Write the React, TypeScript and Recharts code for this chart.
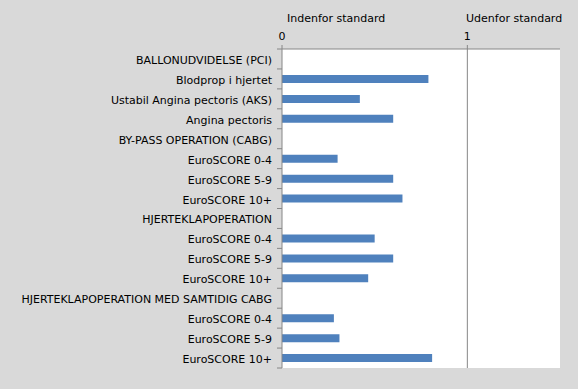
import { BarChart, Bar, XAxis, YAxis, CartesianGrid, ReferenceLine } from "recharts"

const categories = [
  "BALLONUDVIDELSE (PCI)",
  "Blodprop i hjertet",
  "Ustabil Angina pectoris (AKS)",
  "Angina pectoris",
  "BY-PASS OPERATION (CABG)",
  "EuroSCORE 0-4",
  "EuroSCORE 5-9",
  "EuroSCORE 10+",
  "HJERTEKLAPOPERATION",
  "EuroSCORE 0-4",
  "EuroSCORE 5-9",
  "EuroSCORE 10+",
  "HJERTEKLAPOPERATION MED SAMTIDIG CABG",
  "EuroSCORE 0-4",
  "EuroSCORE 5-9",
  "EuroSCORE 10+",
]

const values: (number | null)[] = [
  null, 0.79, 0.42, 0.6, null, 0.3, 0.6, 0.65, null, 0.5, 0.6, 0.465, null, 0.28, 0.31, 0.81,
]

const xTicks = [0, 1]
const headers = ["Indenfor standard", "Udenfor standard"]

const data = categories.map((name, i) => ({ id: i, name, value: values[i] }))

const FONT = "Tahoma, 'DejaVu Sans', sans-serif"
const AXIS = "#868686"
const W = 578
const H = 389
const PLOT_TOP = 49
const PLOT_BOTTOM = 21
const BAND = (H - PLOT_TOP - PLOT_BOTTOM) / categories.length

function CategoryTick(props: any) {
  const { x, y, payload, index } = props
  const label = categories[payload.value] ?? ""
  return (
    <g>
      {index === 0 && (
        <line x1={x + 5} x2={x + 10} y1={y - BAND / 2} y2={y - BAND / 2} stroke={AXIS} />
      )}
      <line x1={x + 5} x2={x + 10} y1={y + BAND / 2} y2={y + BAND / 2} stroke={AXIS} />
      <text x={x} y={y} dy={5} textAnchor="end" fontSize={11} fontFamily={FONT} fill="#000">
        {label}
      </text>
    </g>
  )
}

export default function App() {
  return (
    <div
      style={{
        position: "absolute",
        left: 0,
        top: 0,
        width: W,
        height: H,
        background: "#d9d9d9",
        fontFamily: FONT,
      }}
    >
      {headers.map((h, i) => (
        <div
          key={h}
          style={{
            position: "absolute",
            left: i === 0 ? 287 : 466,
            top: 12,
            fontSize: 11,
            color: "#000",
            whiteSpace: "nowrap",
          }}
        >
          {h}
        </div>
      ))}
      <BarChart
        width={W}
        height={H}
        data={data}
        layout="vertical"
        margin={{ top: 29, right: 18, bottom: PLOT_BOTTOM, left: 0 }}
        barCategoryGap="40%"
      >
        <CartesianGrid fill="#ffffff" horizontal={false} vertical={false} />
        <XAxis
          type="number"
          orientation="top"
          domain={[0, 1.5]}
          ticks={xTicks}
          height={20}
          axisLine={{ stroke: AXIS }}
          tickLine={{ stroke: AXIS }}
          tickSize={4}
          tickMargin={5}
          tick={{ fontSize: 11, fontFamily: FONT, fill: "#000" }}
        />
        <YAxis
          type="category"
          dataKey="id"
          width={282}
          axisLine={{ stroke: AXIS }}
          tickLine={false}
          tickSize={5}
          tickMargin={5}
          interval={0}
          tick={<CategoryTick />}
        />
        <ReferenceLine x={1} stroke={AXIS} />
        <Bar dataKey="value" fill="#4f81bd" barSize={8} isAnimationActive={false} />
      </BarChart>
    </div>
  )
}
